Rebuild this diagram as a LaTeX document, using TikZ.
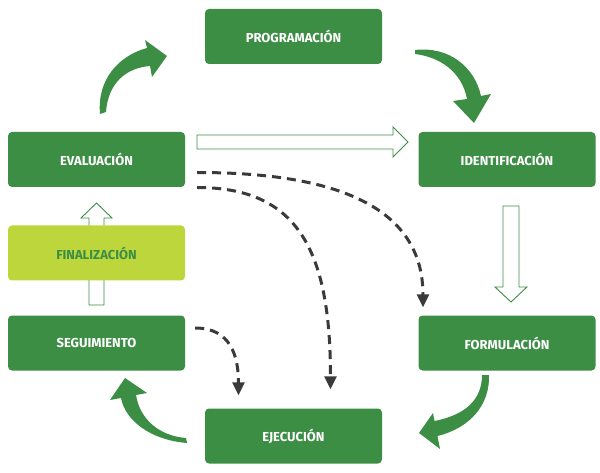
\documentclass[tikz,border=0pt]{standalone}
\usepackage{fontspec}
\setmainfont{Fira Sans}
\usetikzlibrary{arrows.meta,calc}
\definecolor{dgreen}{RGB}{61,142,69}
\definecolor{lgreen}{RGB}{188,214,60}
\definecolor{dashgray}{RGB}{58,58,58}
\begin{document}
\begin{tikzpicture}[x=1pt,y=-1pt,
  stage/.style={fill=dgreen, rounded corners=4pt, minimum width=177pt, minimum height=55pt,
    text=white, font=\fontsize{13}{15}\selectfont\bfseries, inner sep=0pt},
  finstage/.style={stage, fill=lgreen, text=dgreen},
  bigarrow/.style={fill=dgreen, draw=none},
  hollow/.style={draw=dgreen, fill=white, line width=0.9pt, line join=miter},
  dasharrow/.style={draw=dashgray, line width=3pt, dash pattern=on 9pt off 6pt,
    -{Triangle[length=13pt,width=12pt]}}]
\useasboundingbox (0,0) rectangle (600,473);

% stage boxes
\node[stage] (prog) at (293.5,36.5) {PROGRAMACIÓN};
\node[stage] (eval) at (96.5,159.5) {EVALUACIÓN};
\node[stage] (ident) at (507,159.5) {IDENTIFICACIÓN};
\node[stage] (seg) at (96.5,343) {SEGUIMIENTO};
\node[stage] (form) at (507,343) {FORMULACIÓN};
\node[stage] (exec) at (293.5,436) {EJECUCIÓN};

% hollow arrows
\draw[hollow] (197,135) -- (393,135) -- (393,127) -- (408,142) -- (393,157) -- (393,149) -- (197,149) -- cycle;
\draw[hollow] (503,206) -- (519,206) -- (519,287) -- (527,287) -- (511,302) -- (495,287) -- (503,287) -- cycle;
\draw[hollow] (89,305) -- (89,218) -- (81,218) -- (96.5,203) -- (112,218) -- (104,218) -- (104,305) -- cycle;

\node[finstage] (fin) at (96.5,253) {FINALIZACIÓN};

% big curved arrows
\fill[bigarrow] (100,114) .. controls (97,80) and (118,56) .. (147,48) -- (145,40) -- (167,56)
  -- (152,77) -- (150,66) .. controls (125,68) and (108,84) .. (106,112) -- cycle;
\fill[bigarrow] (415,50) .. controls (450,46) and (475,68) .. (481,96) -- (491,94) -- (474,123)
  -- (453,101) -- (467,99) .. controls (462,72) and (440,57) .. (415,54) -- cycle;
\fill[bigarrow] (482,375) .. controls (482,400) and (465,415) .. (434.5,421) -- (433,413) -- (419,433)
  -- (440,449) -- (437.5,436) .. controls (470,428) and (490,405) .. (489,375) -- cycle;
\fill[bigarrow] (187,443) .. controls (150,440) and (125,420) .. (121,398) -- (110,400) -- (125,378)
  -- (147,393) -- (136,395) .. controls (140,420) and (160,436) .. (186,438) -- cycle;

% dashed connectors
\draw[dasharrow] ($(eval.east)+(12,13)$) .. controls +(140,0) and +(0,-100) .. ($(form.north)+(-84,-8)$);
\draw[dasharrow] ($(eval.east)+(12,28)$) .. controls +(100,0) and +(0,-140) .. ($(exec.north)+(37,-19)$);
\draw[dasharrow] ($(seg.east)+(10,-15)$) .. controls +(35,0) and +(0,-40) .. ($(exec.north)+(-55,-13)$);
\end{tikzpicture}
\end{document}
